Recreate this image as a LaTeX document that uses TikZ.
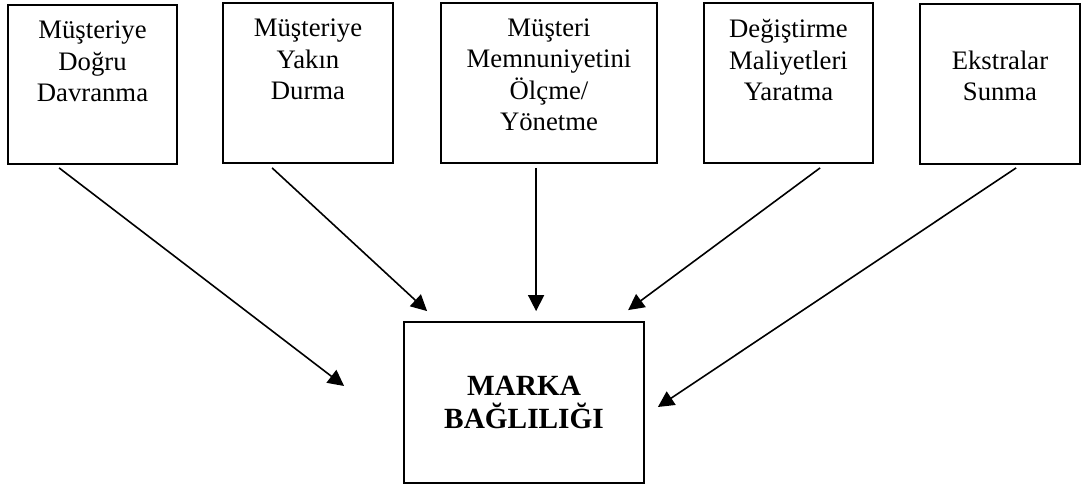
\documentclass[tikz,border=0pt]{standalone}
\usepackage{fontspec}
\setmainfont{Liberation Serif}
\usetikzlibrary{arrows.meta,calc}
\begin{document}
\begin{tikzpicture}[x=1pt,y=-1pt,
  factor/.style={draw,line width=1.8pt,rectangle,inner sep=0pt},
  % anchor=base sits on the last line of a multi-line node
  boxtext/.style={align=center,inner sep=0pt,anchor=base,
    font=\fontsize{26.7}{31.5}\selectfont},
  goaltext/.style={align=center,inner sep=0pt,anchor=base,
    font=\fontsize{29.3}{33}\selectfont\bfseries},
  link/.style={line width=1.6pt,-{Triangle[length=16pt,width=16pt]}}]
\useasboundingbox (0,0) rectangle (1089,484);

% factor boxes
\node[factor,minimum width=169pt,minimum height=159pt] (b1) at (92.5,84.5) {};
\node[factor,minimum width=170pt,minimum height=160pt] (b2) at (308,83) {};
\node[factor,minimum width=216pt,minimum height=160pt] (b3) at (549,83) {};
\node[factor,minimum width=169pt,minimum height=160pt] (b4) at (788.5,83) {};
\node[factor,minimum width=160pt,minimum height=160pt] (b5) at (1000,84) {};
% goal box
\node[factor,minimum width=240pt,minimum height=161pt] (m) at (524,402.5) {};

% labels (positioned by the baseline of their last line)
\node[boxtext] (t1) at (92.5,102) {Müşteriye\\Doğru\\Davranma};
\node[boxtext] (t2) at (308,100) {Müşteriye\\Yakın\\Durma};
\node[boxtext] (t3) at (549,131) {Müşteri\\Memnuniyetini\\Ölçme/\\Yönetme};
\node[boxtext] (t4) at (788.5,101) {Değiştirme\\Maliyetleri\\Yaratma};
\node[boxtext] (t5) at (1000,101) {Ekstralar\\Sunma};
\node[goaltext] (tm) at (524,428) {MARKA\\BAĞLILIĞI};

% arrow ends
\coordinate (s1) at ($(b1.south west)+(52,3)$);
\coordinate (s2) at ($(b2.south west)+(50,4)$);
\coordinate (s3) at ($(b3.south west)+(96,4)$);
\coordinate (s4) at ($(b4.south west)+(117,4)$);
\coordinate (s5) at ($(b5.south west)+(97,3)$);
\coordinate (e1) at ($(m.west)+(-59,-16.5)$);
\coordinate (e2) at ($(m.north west)+(24,-10)$);
\coordinate (e3) at ($(m.north west)+(133,-10)$);
\coordinate (e4) at ($(m.north west)+(225,-11)$);
\coordinate (e5) at ($(m.east)+(13,4.5)$);

\draw[link] (s1) -- (e1);
\draw[link] (s2) -- (e2);
\draw[link] (s3) -- (e3);
\draw[link] (s4) -- (e4);
\draw[link] (s5) -- (e5);
\end{tikzpicture}
\end{document}
